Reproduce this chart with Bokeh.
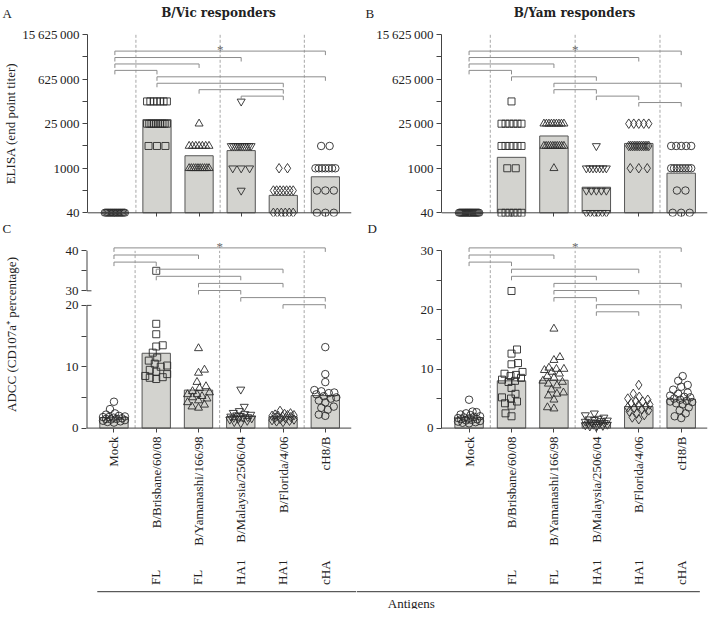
import math
from bokeh.plotting import figure
from bokeh.layouts import column, row
from bokeh.models import Range1d, FixedTicker, Span
from bokeh.core.properties import value
from bokeh.embed import file_html
from bokeh.resources import INLINE

# ------------------------------------------------------------------ data
categories = ["Mock", "B/Brisbane/60/08", "B/Yamanashi/166/98",
              "B/Malaysia/2506/04", "B/Florida/4/06", "cH8/B"]
antigen_types = ["", "FL", "FL", "HA1", "HA1", "cHA"]
markers = ["circle", "square", "triangle", "inverted_triangle", "diamond", "circle"]

elisa_ticks = [40, 1000, 25000, 625000, 15625000]
elisa_minor_ticks = [200, 5000, 125000, 3125000]
elisa_tick_labels = ["40", "1000", "25\u2009000", "625\u2009000", "15\u2009625\u2009000"]

adcc_vic_ticks = [0, 10, 20, 30, 40]
adcc_vic_minor_ticks = [5, 15, 35]
adcc_yam_ticks = [0, 10, 20, 30]
adcc_yam_minor_ticks = [5, 15, 25]

# Panel A - ELISA end point titers, B/Vic responders
vic_elisa_mock = [40, 40, 40, 40, 40, 40, 40, 40, 40, 40, 40, 40, 40, 40, 40, 40]
vic_elisa_bris = [125000, 125000, 125000, 125000, 125000, 125000, 125000,
                  25000, 25000, 25000, 25000, 25000, 25000, 25000, 25000, 25000, 25000,
                  5000, 5000, 5000]
vic_elisa_yam = [25000, 5000, 5000, 5000, 5000, 5000, 5000, 5000,
                 1000, 1000, 1000, 1000, 1000, 1000, 1000, 1000, 1000, 1000]
vic_elisa_mal = [125000, 5000, 5000, 5000, 5000, 5000, 5000, 5000, 5000, 5000, 5000,
                 1000, 1000, 1000, 200]
vic_elisa_flo = [1000, 1000, 200, 200, 200, 200, 200, 200, 200, 40, 40, 40, 40, 40, 40]
vic_elisa_cha = [5000, 5000, 1000, 1000, 1000, 1000, 1000, 1000, 1000,
                 200, 200, 200, 40, 40, 40]
vic_elisa_bars = [40, 33400, 2470, 3580, 141, 540]

# Panel B - ELISA end point titers, B/Yam responders
yam_elisa_mock = [40, 40, 40, 40, 40, 40, 40, 40, 40, 40, 40, 40, 40, 40, 40, 40, 40, 40, 40, 40]
yam_elisa_bris = [125000, 25000, 25000, 25000, 25000, 25000, 25000,
                  5000, 5000, 5000, 5000, 5000, 5000, 1000, 1000,
                  40, 40, 40, 40, 40, 40]
yam_elisa_yam = [25000, 25000, 25000, 25000, 25000, 25000, 25000, 25000, 25000,
                 5000, 5000, 5000, 5000, 5000, 5000, 5000, 5000, 5000, 5000, 1000]
yam_elisa_mal = [5000, 1000, 1000, 1000, 1000, 1000, 1000, 1000,
                 200, 200, 200, 200, 200, 40, 40, 40, 40, 40, 40]
yam_elisa_flo = [25000, 25000, 25000, 25000, 25000,
                 5000, 5000, 5000, 5000, 5000, 5000, 5000, 5000, 5000, 5000, 5000, 5000,
                 1000, 1000, 1000]
yam_elisa_cha = [5000, 5000, 5000, 5000, 5000, 1000, 1000, 1000, 1000, 1000, 1000, 1000, 1000,
                 200, 200, 40, 40, 40]
yam_elisa_bars = [40, 2200, 10300, 254, 6000, 700]

# Panel C - ADCC (CD107a+ %), B/Vic responders
vic_adcc_mock = [4.3, 3.1, 2.4, 2.2, 2.0, 1.9, 1.8, 1.7, 1.6, 1.5, 1.4, 1.3, 1.2, 1.1, 1.0, 0.9, 1.5, 1.8]
vic_adcc_bris = [35.0, 17.0, 15.3, 13.5, 13.3, 12.3, 11.5, 11.0, 10.5, 10.2, 10.0, 9.5, 9.2, 8.8, 8.5, 8.3, 8.2, 8.0]
vic_adcc_yam = [13.0, 9.5, 9.0, 7.5, 6.8, 6.5, 6.0, 5.8, 5.5, 5.5, 5.2, 5.0, 4.8, 4.5, 4.2, 3.8, 3.5, 3.3]
vic_adcc_mal = [6.3, 3.5, 2.8, 2.5, 2.3, 2.2, 2.1, 2.0, 1.9, 1.8, 1.7, 1.7, 1.6, 1.5, 1.4, 1.2, 1.0, 0.8]
vic_adcc_flo = [2.8, 2.4, 2.3, 2.2, 2.1, 2.1, 2.0, 2.0, 1.9, 1.8, 1.7, 1.6, 1.5, 1.4, 1.3, 1.2, 1.1, 1.0]
vic_adcc_cha = [13.2, 8.8, 7.5, 6.2, 6.0, 5.8, 5.7, 5.5, 5.2, 5.0, 4.8, 4.5, 4.2, 3.5, 3.3, 3.0, 2.2, 2.0]
vic_adcc_bars = [1.7, 12.2, 6.2, 1.9, 1.85, 5.3]

# Panel D - ADCC (CD107a+ %), B/Yam responders
yam_adcc_mock = [4.8, 2.8, 2.7, 2.5, 2.3, 2.2, 2.0, 1.9, 1.8, 1.7, 1.6, 1.5, 1.5, 1.4, 1.3, 1.2, 1.1, 1.0, 0.9, 0.8]
yam_adcc_bris = [23.2, 13.3, 12.6, 11.0, 10.8, 9.5, 9.2, 9.0, 8.8, 8.5, 8.2, 8.0, 7.8, 6.8, 5.8, 5.2, 5.0, 4.5, 4.2, 3.8, 2.5, 2.0]
yam_adcc_yam = [16.8, 12.0, 11.5, 10.2, 10.0, 10.0, 9.8, 9.5, 9.2, 8.8, 8.5, 8.0, 7.8, 7.5, 7.2, 6.5, 6.0, 5.8, 5.5, 4.8, 3.5, 3.3]
yam_adcc_mal = [2.5, 2.2, 1.8, 1.6, 1.5, 1.4, 1.3, 1.2, 1.1, 1.0, 0.9, 0.9, 0.8, 0.7, 0.6, 0.6, 0.5, 0.4, 0.3, 0.2]
yam_adcc_flo = [7.3, 5.8, 5.3, 5.0, 4.8, 4.5, 4.5, 4.2, 4.0, 3.8, 3.6, 3.5, 3.4, 3.2, 3.0, 2.8, 2.5, 2.2, 1.8, 1.5]
yam_adcc_cha = [8.8, 8.0, 7.3, 7.0, 6.5, 6.0, 5.8, 5.5, 5.3, 5.2, 5.0, 4.8, 4.6, 4.5, 4.4, 4.2, 4.0, 3.5, 3.0, 2.5, 2.0, 1.7]
yam_adcc_bars = [1.75, 8.0, 8.1, 0.95, 3.65, 4.9]

# significance brackets (category index pairs), top to bottom
brackets_a = [(0, 5), (0, 3), (0, 2), (0, 1), (1, 5), (1, 4), (2, 4), (3, 4)]
brackets_b = [(0, 5), (0, 4), (0, 2), (0, 1), (1, 3), (2, 5), (2, 3), (3, 4), (4, 5)]
brackets_c = [(0, 5), (0, 2), (0, 1), (1, 4), (1, 3), (2, 4), (2, 3), (3, 5), (4, 5)]
brackets_d = [(0, 5), (0, 2), (0, 1), (1, 4), (1, 3), (2, 5), (2, 4), (2, 3), (3, 5), (3, 4)]

# ------------------------------------------------------------------ style / geometry
SERIF = "Liberation Serif"
INK = "#222222"
AXIS = "#444444"
BRACKET = "#8c8c8c"
DIVIDER = "#a8a8a8"
BAR_FILL = "#d3d3cf"
BAR_LINE = "#555555"
MARK_LINE = "#2b2b2b"
MARK_SIZE = {"circle": 7.5, "square": 7, "triangle": 8, "inverted_triangle": 8, "diamond": 9.5}

TOTAL_W = 712
COL_W = 356
BL, BR = 85, 5
FW = COL_W - BL - BR
X_START, X_END = -0.65, 5.62
PPX = FW / (X_END - X_START)
BAR_W = 0.67
DIVIDERS = [0.5, 2.5, 4.5]

H0 = 24                          # header strip: panel letters A/B and titles
H1, H1_TOP, H1_BOT = 196, 6, 4   # ELISA row
HS = 16                          # strip with panel letters C/D
H2, H2_TOP, H2_BOT = 324, 0, 128 # ADCC row
H3 = 49                          # antigen-type row


class Geo:
    """maps between data values and pixel offsets from a frame's top"""
    def __init__(self, h, v1, o1, v2, o2, log=False):
        self.h, self.log = h, log
        t1, t2 = self._t(v1), self._t(v2)
        self.k = (t2 - t1) / (o1 - o2)            # data units per pixel
        self.t_top = t1 + o1 * self.k
        self.start = self._inv(self.t_top - h * self.k)
        self.end = self._inv(self.t_top)

    def _t(self, v):
        return math.log10(v) if self.log else v

    def _inv(self, t):
        return 10 ** t if self.log else t

    def y(self, off):
        return self._inv(self.t_top - off * self.k)

    def off(self, v):
        return (self.t_top - self._t(v)) / self.k


FH1 = H1 - H1_TOP - H1_BOT
FH2 = H2 - H2_TOP - H2_BOT
geoA = Geo(FH1, 40, 182.3, 15625000, 4.1, log=True)
geoD = Geo(FH2, 0, 191.6, 30, 14.3)
geoC = Geo(FH2, 0, 191.6, 20, 68.9)          # lower (unbroken) part of panel C
T30 = geoC.y(54.3)                           # where 30 sits above the axis break
T40 = geoC.y(14.3)
UPPER_SCALE = (T40 - T30) / (adcc_vic_ticks[4] - adcc_vic_ticks[3])


def c_t(v):
    """broken-axis transform for panel C"""
    if v <= adcc_vic_ticks[2]:
        return v
    return T30 + (v - adcc_vic_ticks[3]) * UPPER_SCALE


def make_fig(height, geo, bt, bb):
    p = figure(width=COL_W, height=height, x_range=Range1d(X_START, X_END),
               y_range=Range1d(geo.start, geo.end),
               y_axis_type="log" if geo.log else "linear",
               output_backend="svg", toolbar_location=None,
               min_border_left=BL, min_border_right=BR,
               min_border_top=bt, min_border_bottom=bb)
    p.grid.visible = False
    p.outline_line_color = None
    return p


def blank_fig(width, height, x0, x1):
    p = figure(width=width, height=height, x_range=Range1d(x0, x1), y_range=Range1d(0, height),
               x_axis_location=None, y_axis_location=None, output_backend="svg",
               toolbar_location=None, min_border_left=0, min_border_right=0,
               min_border_top=0, min_border_bottom=0)
    p.grid.visible = False
    p.outline_line_color = None
    return p


def style_y(p, ticks, minor, bounds, overrides=None, label=None, label_standoff=0):
    ax = p.yaxis[0]
    ax.ticker = FixedTicker(ticks=ticks, minor_ticks=minor)
    if bounds is None:
        ax.axis_line_color = None
    else:
        ax.bounds = bounds
        ax.axis_line_color = AXIS
    ax.major_tick_line_color = AXIS
    ax.minor_tick_line_color = AXIS
    ax.major_tick_in, ax.major_tick_out = 0, 5
    ax.minor_tick_in, ax.minor_tick_out = 0, 5
    ax.major_label_text_font = SERIF
    ax.major_label_text_font_size = "13px"
    ax.major_label_text_color = INK
    ax.major_label_standoff = 3
    if overrides:
        ax.major_label_overrides = overrides
    if label:
        ax.axis_label = label
        ax.axis_label_text_font = SERIF
        ax.axis_label_text_font_size = "13px"
        ax.axis_label_text_font_style = "normal"
        ax.axis_label_text_color = INK
        ax.axis_label_standoff = label_standoff


def style_x(p, show_labels):
    ax = p.xaxis[0]
    ax.ticker = FixedTicker(ticks=list(range(len(categories))), minor_ticks=[])
    ax.axis_line_color = None
    ax.major_tick_line_color = AXIS
    ax.major_tick_in, ax.major_tick_out = 4, 0
    ax.major_label_standoff = 4
    if show_labels:
        ax.major_label_overrides = {i: c for i, c in enumerate(categories)}
        ax.major_label_orientation = math.pi / 2
        ax.major_label_text_font = SERIF
        ax.major_label_text_font_size = "13px"
        ax.major_label_text_color = INK
    else:
        ax.major_label_overrides = {i: "" for i in range(len(categories))}


def row_offsets(vals):
    """spread identical titers side by side (Prism style)"""
    offs = [0.0] * len(vals)
    groups = {}
    for i, v in enumerate(vals):
        groups.setdefault(v, []).append(i)
    for v, idx in groups.items():
        n = len(idx)
        if n == 1:
            continue
        step = min(8.5, 20.0 / (n - 1))
        for k, i in enumerate(idx):
            offs[i] = (k - (n - 1) / 2) * step / PPX
    return offs


def swarm_offsets(vals, to_px, diam=6.5, half=11.0):
    n = len(vals)
    order = sorted(range(n), key=lambda i: vals[i])
    cands = [0.0]
    k = 1
    while k * 0.5 <= half:
        cands += [k * 0.5, -k * 0.5]
        k += 1
    placed = []
    offs = [0.0] * n
    flip = 1
    for i in order:
        py = to_px(vals[i])
        chosen, best, bestd = None, 0.0, -1.0
        for c in cands:
            cx = c * flip
            d = min((math.hypot(cx - qx, py - qy) for qx, qy in placed), default=1e9)
            if d >= diam:
                chosen = cx
                break
            if d > bestd:
                bestd, best = d, cx
        if chosen is None:
            chosen = best
        flip = -flip
        placed.append((chosen, py))
        offs[i] = chosen / PPX
    return offs


def draw_points(p, idx, vals, offs, ys=None):
    m = markers[idx]
    p.scatter(x=[idx + o for o in offs], y=ys if ys is not None else vals, marker=m,
              size=MARK_SIZE[m], fill_color=None, line_color=MARK_LINE, line_width=0.9)


def draw_bars(p, bars, bottom):
    p.vbar(x=list(range(len(bars))), width=BAR_W, top=bars, bottom=bottom,
           fill_color=BAR_FILL, line_color=BAR_LINE, line_width=1)


def draw_dividers(p, y0, y1):
    p.segment(x0=DIVIDERS, y0=[y0] * len(DIVIDERS), x1=DIVIDERS, y1=[y1] * len(DIVIDERS),
              line_color=DIVIDER, line_dash="3 2", line_width=1)


def draw_brackets(p, g, pairs, top, step, tick=4.0):
    xs, ys = [], []
    for k, (a, b) in enumerate(pairs):
        off = top + k * step
        y, yb = g.y(off), g.y(off + tick)
        xs.append([a, a, b, b])
        ys.append([yb, y, y, yb])
    p.multi_line(xs=xs, ys=ys, line_color=BRACKET, line_width=1)
    x_mid = (pairs[0][0] + pairs[0][1]) / 2
    p.text(x=[x_mid], y=[g.y(top - 1.5)], text=["*"], text_align="center",
           text_baseline="alphabetic", text_font=value(SERIF), text_font_size="13px",
           text_color="#6a6a6a")


# ------------------------------------------------------------------ header (letters A/B + titles)
header = blank_fig(TOTAL_W, H0, 0, TOTAL_W)
header.text(x=[2, COL_W + 9], y=[H0 - 12.7] * 2, text=["A", "B"], text_align="left",
            text_baseline="alphabetic", text_font=value(SERIF), text_font_size="13px",
            text_color=INK)
header.text(x=[BL + FW / 2, COL_W + BL + FW / 2], y=[H0 - 12.7] * 2,
            text=["B/Vic responders", "B/Yam responders"], text_align="center",
            text_baseline="middle", text_font=value("DejaVu Serif"), text_font_size="12px",
            text_font_style="bold", text_color=INK)

# ------------------------------------------------------------------ panels A / B
elisa_overrides = {t: l for t, l in zip(elisa_ticks, elisa_tick_labels)}


def elisa_panel(groups, bars, pairs, ylabel):
    p = make_fig(H1, geoA, H1_TOP, H1_BOT)
    style_y(p, elisa_ticks, elisa_minor_ticks, (elisa_ticks[0], elisa_ticks[-1]),
            overrides=elisa_overrides, label=ylabel, label_standoff=1)
    style_x(p, False)
    draw_dividers(p, elisa_ticks[0], elisa_ticks[-1])
    draw_bars(p, bars, elisa_ticks[0])
    for i, vals in enumerate(groups):
        draw_points(p, i, vals, row_offsets(vals))
    p.add_layout(Span(location=elisa_ticks[0], dimension="width", line_color=AXIS, line_width=1))
    draw_brackets(p, geoA, pairs, 20.6, 6.43)
    return p


pA = elisa_panel([vic_elisa_mock, vic_elisa_bris, vic_elisa_yam, vic_elisa_mal, vic_elisa_flo, vic_elisa_cha],
                 vic_elisa_bars, brackets_a, "ELISA (end point titer)")
pB = elisa_panel([yam_elisa_mock, yam_elisa_bris, yam_elisa_yam, yam_elisa_mal, yam_elisa_flo, yam_elisa_cha],
                 yam_elisa_bars, brackets_b, None)

# ------------------------------------------------------------------ strip with letters C/D
mid = blank_fig(TOTAL_W, HS, 0, TOTAL_W)
mid.text(x=[2, COL_W + 11], y=[1.0, 1.0], text=["C", "D"], text_align="left",
         text_baseline="bottom", text_font=value(SERIF), text_font_size="13px",
         text_color=INK)

# ------------------------------------------------------------------ panel C (broken axis)
pC = make_fig(H2, geoC, H2_TOP, H2_BOT)
c_ticks = [c_t(v) for v in adcc_vic_ticks]
style_y(pC, c_ticks, [c_t(v) for v in adcc_vic_minor_ticks], None,
        overrides={t: str(v) for t, v in zip(c_ticks, adcc_vic_ticks)},
        label="ADCC (CD107a\u207a percentage)", label_standoff=44)
style_x(pC, True)
draw_dividers(pC, 0, c_t(adcc_vic_ticks[-1]))
draw_bars(pC, [c_t(v) for v in vic_adcc_bars], 0)
pC.add_layout(Span(location=0, dimension="width", line_color=AXIS, line_width=1))
# the two axis pieces and the caps at the break
cap = 5 / PPX
pC.segment(x0=[X_START, X_START], y0=[c_t(adcc_vic_ticks[0]), c_t(adcc_vic_ticks[3])],
           x1=[X_START, X_START], y1=[c_t(adcc_vic_ticks[2]), c_t(adcc_vic_ticks[4])],
           line_color=AXIS, line_width=2)
pC.segment(x0=[X_START, X_START], y0=[c_t(adcc_vic_ticks[2]), c_t(adcc_vic_ticks[3])],
           x1=[X_START + cap, X_START + cap], y1=[c_t(adcc_vic_ticks[2]), c_t(adcc_vic_ticks[3])],
           line_color=AXIS, line_width=1)
for i, vals in enumerate([vic_adcc_mock, vic_adcc_bris, vic_adcc_yam, vic_adcc_mal, vic_adcc_flo, vic_adcc_cha]):
    offs = swarm_offsets(vals, lambda v: geoC.off(c_t(v)))
    draw_points(pC, i, vals, offs, ys=[c_t(v) for v in vals])
draw_brackets(pC, geoC, brackets_c, 11.4, 7.1)

# ------------------------------------------------------------------ panel D
pD = make_fig(H2, geoD, H2_TOP, H2_BOT)
style_y(pD, adcc_yam_ticks, adcc_yam_minor_ticks, (adcc_yam_ticks[0], adcc_yam_ticks[-1]))
style_x(pD, True)
draw_dividers(pD, 0, adcc_yam_ticks[-1])
draw_bars(pD, yam_adcc_bars, 0)
pD.add_layout(Span(location=0, dimension="width", line_color=AXIS, line_width=1))
for i, vals in enumerate([yam_adcc_mock, yam_adcc_bris, yam_adcc_yam, yam_adcc_mal, yam_adcc_flo, yam_adcc_cha]):
    draw_points(pD, i, vals, swarm_offsets(vals, geoD.off))
draw_brackets(pD, geoD, brackets_d, 11.4, 7.1)


# ------------------------------------------------------------------ antigen type row
def type_fig(bl, br, x0, x1):
    p = figure(width=COL_W, height=H3, x_range=Range1d(x0, x1), y_range=Range1d(0, H3),
               x_axis_location=None, y_axis_location=None, output_backend="svg",
               toolbar_location=None, min_border_left=bl, min_border_right=br,
               min_border_top=0, min_border_bottom=0)
    p.grid.visible = False
    p.outline_line_color = None
    p.text(x=list(range(len(antigen_types))), y=[24.6] * len(antigen_types), text=antigen_types,
           angle=math.pi / 2, text_align="left", text_baseline="middle",
           text_font=value(SERIF), text_font_size="13px", text_color=INK)
    return p


e_end = X_START + (FW + BR) / PPX
f_start = X_END - (COL_W - BR) / PPX
pE = type_fig(BL, 0, X_START, e_end)
pF = type_fig(0, BR, f_start, X_END)
pE.line(x=[-0.372, e_end], y=[17.8, 17.8], line_color="#333333", line_width=1)
pF.line(x=[f_start, 5.44], y=[17.8, 17.8], line_color="#333333", line_width=1)
pF.text(x=[-1.916], y=[6.5], text=["Antigens"], text_align="left", text_baseline="alphabetic",
        text_font=value(SERIF), text_font_size="13px", text_color=INK)

layout = column(header, row(pA, pB), mid, row(pC, pD), row(pE, pF))
open("out.html", "w").write(file_html(layout, INLINE))
